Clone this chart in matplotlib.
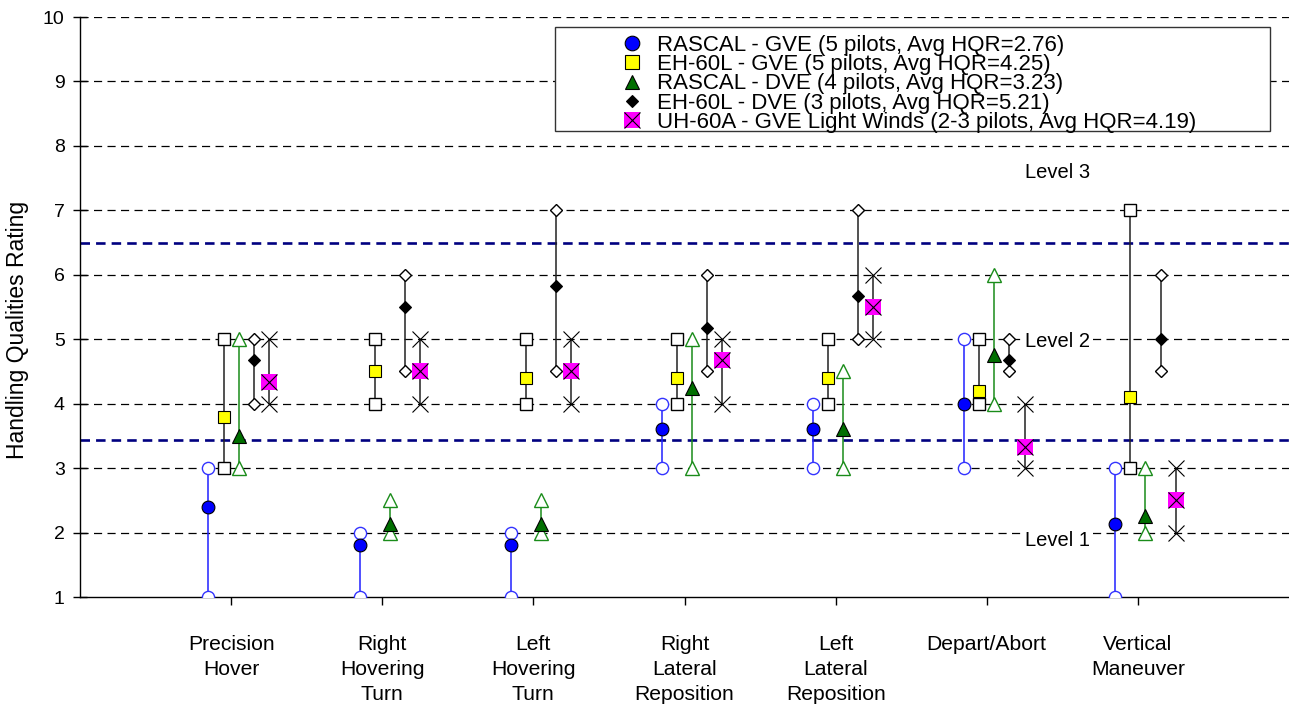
import matplotlib
matplotlib.use("Agg")
import matplotlib.pyplot as plt
from matplotlib.lines import Line2D
from matplotlib.patches import Rectangle
import numpy as np

plt.rcParams['font.family'] = ['Liberation Sans', 'DejaVu Sans']

# Maneuvers (x categories)
tasks = ["Precision\nHover", "Right\nHovering\nTurn", "Left\nHovering\nTurn",
         "Right\nLateral\nReposition", "Left\nLateral\nReposition",
         "Depart/Abort", "Vertical\nManeuver"]

# Average / minimum / maximum handling qualities ratings per series
rascal_gve_avg = [2.4, 1.8, 1.8, 3.6, 3.6, 4.0, 2.13]
rascal_gve_min = [1, 1, 1, 3, 3, 3, 1]
rascal_gve_max = [3, 2, 2, 4, 4, 5, 3]

eh60_gve_avg = [3.8, 4.5, 4.4, 4.4, 4.4, 4.2, 4.1]
eh60_gve_min = [3, 4, 4, 4, 4, 4, 3]
eh60_gve_max = [5, 5, 5, 5, 5, 5, 7]

rascal_dve_avg = [3.5, 2.13, 2.13, 4.25, 3.6, 4.75, 2.25]
rascal_dve_min = [3, 2, 2, 3, 3, 4, 2]
rascal_dve_max = [5, 2.5, 2.5, 5, 4.5, 6, 3]

eh60_dve_avg = [4.67, 5.5, 5.83, 5.17, 5.67, 4.67, 5.0]
eh60_dve_min = [4, 4.5, 4.5, 4.5, 5, 4.5, 4.5]
eh60_dve_max = [5, 6, 7, 6, 7, 5, 6]

uh60_avg = [4.33, 4.5, 4.5, 4.67, 5.5, 3.33, 2.5]
uh60_min = [4, 4, 4, 4, 5, 3, 2]
uh60_max = [5, 5, 5, 5, 6, 4, 3]

legend_labels = ["RASCAL - GVE (5 pilots, Avg HQR=2.76)",
                 "EH-60L - GVE (5 pilots, Avg HQR=4.25)",
                 "RASCAL - DVE (4 pilots, Avg HQR=3.23)",
                 "EH-60L - DVE (3 pilots, Avg HQR=5.21)",
                 "UH-60A - GVE Light Winds (2-3 pilots, Avg HQR=4.19)"]

# Handling qualities level boundaries
level_bounds = [3.43, 6.5]
level_names = ["Level 1", "Level 2", "Level 3"]
level_text_y = [1.87, 4.97, 7.58]

W, H = 1289, 706
fig = plt.figure(figsize=(W / 100, H / 100), dpi=100)
ax = fig.add_axes([80 / W, 1 - 597 / H, 1 - 80 / W, (597 - 17) / H])

x = np.arange(1, len(tasks) + 1)
offsets = [-0.15, -0.05, 0.05, 0.15, 0.25]

# horizontal grid
for yv in range(2, 11):
    ax.axhline(yv, color='black', lw=0.9, ls=(0, (6.5, 4.3)), zorder=1)

for yb in level_bounds:
    ax.axhline(yb, color='#000080', lw=1.9, ls=(0, (3.6, 2.3)), zorder=1.5)

series = [
    dict(avg=rascal_gve_avg, lo=rascal_gve_min, hi=rascal_gve_max, line='#2020ff',
         mk='o', fc='#0000ff', ms=9.2, omk='o', oec='#3333ff', oms=8.8),
    dict(avg=eh60_gve_avg, lo=eh60_gve_min, hi=eh60_gve_max, line='#222222',
         mk='s', fc='#ffff00', ms=9.2, omk='s', oec='black', oms=9.0),
    dict(avg=rascal_dve_avg, lo=rascal_dve_min, hi=rascal_dve_max, line='#1a8c1a',
         mk='^', fc='#006f00', ms=9.5, omk='^', oec='#1a8c1a', oms=9.5),
    dict(avg=eh60_dve_avg, lo=eh60_dve_min, hi=eh60_dve_max, line='#222222',
         mk='D', fc='black', ms=6.6, omk='D', oec='black', oms=6.6),
]

for i, s in enumerate(series):
    xs = x + offsets[i]
    ax.vlines(xs, s['lo'], s['hi'], color=s['line'], lw=1.1, zorder=2)
    for yy in (s['lo'], s['hi']):
        ax.plot(xs, yy, ls='none', marker=s['omk'], ms=s['oms'], mfc='white',
                mec=s['oec'], mew=1.0, zorder=3)
    ax.plot(xs, s['avg'], ls='none', marker=s['mk'], ms=s['ms'], mfc=s['fc'],
            mec='black', mew=0.8, zorder=4)

# UH-60A series: crosses for min/max, magenta square with cross for average
xs = x + offsets[4]
ax.vlines(xs, uh60_min, uh60_max, color='#222222', lw=1.1, zorder=2)
for yy in (uh60_min, uh60_max):
    ax.plot(xs, yy, ls='none', marker='x', ms=11, mec='black', mew=0.8, zorder=3)
ax.plot(xs, uh60_avg, ls='none', marker='s', ms=12, mfc='#ff00ff', mec='#ff00ff',
        mew=0, zorder=4)
ax.plot(xs, uh60_avg, ls='none', marker='x', ms=12, mec='black', mew=0.8, zorder=5)

for name, ty in zip(level_names, level_text_y):
    ax.text(6.255, ty, name, fontsize=14.5, va='center', ha='left', zorder=6,
            bbox=dict(boxstyle='square,pad=0.15', facecolor='white', edgecolor='none'))

ax.set_xlim(0, 8)
ax.set_ylim(1, 10)
ax.set_yticks(range(1, 11))
ax.set_xticks(x)
ax.set_xticklabels(tasks, fontsize=15.2, linespacing=1.42)
ax.tick_params(axis='x', direction='out', length=6, width=1, pad=21)
ax.tick_params(axis='y', direction='inout', length=10, width=1, labelsize=14, pad=6)
fig.text(18 / W, 1 - 330 / H, "Handling Qualities Rating", fontsize=16.5,
         rotation=90, ha='center', va='center')
for side in ('top', 'right'):
    ax.spines[side].set_visible(False)
for side in ('left', 'bottom'):
    ax.spines[side].set_linewidth(1.0)

# Legend with a white boxed frame
handles = [
    Line2D([], [], ls='none', marker='o', ms=10.5, mfc='#0000ff', mec='black', mew=0.8),
    Line2D([], [], ls='none', marker='s', ms=9.4, mfc='#ffff00', mec='black', mew=0.8),
    Line2D([], [], ls='none', marker='^', ms=10, mfc='#006f00', mec='black', mew=0.8),
    Line2D([], [], ls='none', marker='D', ms=6.6, mfc='black', mec='black', mew=0.8),
    (Line2D([], [], ls='none', marker='s', ms=11.5, mfc='#ff00ff', mec='#ff00ff', mew=0),
     Line2D([], [], ls='none', marker='x', ms=11.5, mec='black', mew=0.8)),
]
frame = Rectangle((555 / W, 1 - 131 / H), 715 / W, 104 / H, transform=fig.transFigure,
                  facecolor='white', edgecolor='#333333', lw=1.0, zorder=10, clip_on=False)
ax.add_patch(frame)
leg = ax.legend(handles, legend_labels, loc='upper left',
                bbox_to_anchor=(621 / W, 1 - 35 / H), bbox_transform=fig.transFigure,
                frameon=False, fontsize=16, handlelength=1.0, handletextpad=0.63,
                labelspacing=-0.08, borderpad=0, borderaxespad=0)
leg.set_zorder(11)

fig.savefig("out.png", dpi=100)
